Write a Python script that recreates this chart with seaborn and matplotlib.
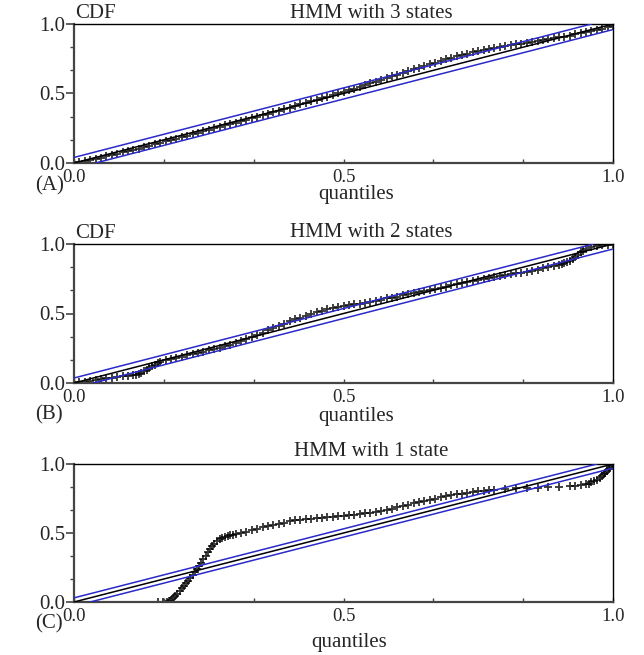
import matplotlib
matplotlib.use("Agg")
import matplotlib.pyplot as plt
from matplotlib.ticker import MultipleLocator
from matplotlib.transforms import ScaledTranslation
import seaborn as sns
import pandas as pd

# =====================================================
# DATA
# =====================================================

# panel A : HMM with 3 states
q_a = [0.00, 0.01, 0.02, 0.03, 0.04, 0.05, 0.06, 0.07, 0.08, 0.09,
       0.10, 0.11, 0.12, 0.13, 0.14, 0.15, 0.16, 0.17, 0.18, 0.19,
       0.20, 0.21, 0.22, 0.23, 0.24, 0.25, 0.26, 0.27, 0.28, 0.29,
       0.30, 0.31, 0.32, 0.33, 0.34, 0.35, 0.36, 0.37, 0.38, 0.39,
       0.40, 0.41, 0.42, 0.43, 0.44, 0.45, 0.46, 0.47, 0.48, 0.49,
       0.50, 0.51, 0.52, 0.53, 0.54, 0.55, 0.56, 0.57, 0.58, 0.59,
       0.60, 0.61, 0.62, 0.63, 0.64, 0.65, 0.66, 0.67, 0.68, 0.69,
       0.70, 0.71, 0.72, 0.73, 0.74, 0.75, 0.76, 0.77, 0.78, 0.79,
       0.80, 0.81, 0.82, 0.83, 0.84, 0.85, 0.86, 0.87, 0.88, 0.89,
       0.90, 0.91, 0.92, 0.93, 0.94, 0.95, 0.96, 0.97, 0.98, 0.99, 1.00]
cdf_a = [0.000, 0.005, 0.012, 0.021, 0.030, 0.039, 0.048, 0.057, 0.066, 0.076,
         0.085, 0.094, 0.104, 0.114, 0.124, 0.134, 0.145, 0.155, 0.166, 0.176,
         0.187, 0.197, 0.207, 0.217, 0.228, 0.239, 0.249, 0.259, 0.270, 0.280,
         0.290, 0.301, 0.312, 0.322, 0.333, 0.343, 0.354, 0.365, 0.376, 0.387,
         0.398, 0.409, 0.421, 0.432, 0.444, 0.455, 0.467, 0.478, 0.489, 0.500,
         0.512, 0.523, 0.535, 0.547, 0.560, 0.573, 0.586, 0.599, 0.612, 0.624,
         0.636, 0.648, 0.660, 0.673, 0.686, 0.698, 0.710, 0.723, 0.735, 0.746,
         0.757, 0.767, 0.776, 0.786, 0.795, 0.803, 0.810, 0.818, 0.825, 0.833,
         0.840, 0.847, 0.853, 0.859, 0.865, 0.871, 0.877, 0.884, 0.890, 0.897,
         0.903, 0.910, 0.917, 0.925, 0.934, 0.942, 0.950, 0.958, 0.967, 0.976, 0.985]

# panel B : HMM with 2 states
q_b = [0.00, 0.01, 0.02, 0.03, 0.04, 0.05, 0.06, 0.07, 0.08, 0.09,
       0.10, 0.11, 0.115, 0.12, 0.125, 0.13, 0.135, 0.14, 0.145, 0.15,
       0.155, 0.16, 0.17, 0.18, 0.19, 0.20, 0.21, 0.22, 0.23, 0.24,
       0.25, 0.26, 0.27, 0.28, 0.29, 0.30, 0.31, 0.32, 0.33, 0.34,
       0.35, 0.36, 0.37, 0.38, 0.39, 0.40, 0.41, 0.42, 0.43, 0.44,
       0.45, 0.46, 0.47, 0.48, 0.49, 0.50, 0.51, 0.52, 0.53, 0.54,
       0.55, 0.56, 0.57, 0.58, 0.59, 0.60, 0.61, 0.62, 0.63, 0.64,
       0.65, 0.66, 0.67, 0.68, 0.69, 0.70, 0.71, 0.72, 0.73, 0.74,
       0.75, 0.76, 0.77, 0.78, 0.79, 0.80, 0.81, 0.82, 0.83, 0.84,
       0.85, 0.86, 0.87, 0.88, 0.89, 0.90, 0.905, 0.91, 0.915, 0.92,
       0.925, 0.93, 0.935, 0.94, 0.945, 0.95, 0.96, 0.97, 0.98, 0.99, 1.00]
cdf_b = [0.000, 0.004, 0.008, 0.014, 0.020, 0.027, 0.033, 0.038, 0.043, 0.047,
         0.050, 0.056, 0.060, 0.065, 0.074, 0.085, 0.097, 0.110, 0.122, 0.133,
         0.142, 0.150, 0.162, 0.172, 0.181, 0.190, 0.198, 0.207, 0.216, 0.225,
         0.234, 0.244, 0.253, 0.263, 0.273, 0.285, 0.300, 0.315, 0.331, 0.347,
         0.363, 0.380, 0.397, 0.413, 0.428, 0.443, 0.457, 0.470, 0.483, 0.495,
         0.508, 0.520, 0.531, 0.540, 0.547, 0.553, 0.559, 0.565, 0.571, 0.578,
         0.585, 0.593, 0.600, 0.608, 0.615, 0.622, 0.630, 0.638, 0.646, 0.654,
         0.662, 0.670, 0.678, 0.686, 0.694, 0.702, 0.710, 0.717, 0.725, 0.733,
         0.741, 0.749, 0.756, 0.763, 0.770, 0.776, 0.782, 0.788, 0.794, 0.800,
         0.807, 0.815, 0.824, 0.833, 0.842, 0.852, 0.858, 0.865, 0.872, 0.880,
         0.891, 0.905, 0.922, 0.940, 0.953, 0.965, 0.978, 0.985, 0.990, 0.995, 1.000]

# panel C : HMM with 1 state
q_c = [0.155, 0.165, 0.172, 0.176, 0.180, 0.184, 0.188, 0.192, 0.196, 0.200,
       0.204, 0.208, 0.212, 0.216, 0.220, 0.224, 0.228, 0.232, 0.236, 0.240,
       0.244, 0.248, 0.252, 0.256, 0.260, 0.265, 0.270, 0.275, 0.280, 0.285,
       0.290, 0.295, 0.300, 0.31, 0.32, 0.33, 0.34, 0.35, 0.36, 0.37,
       0.38, 0.39, 0.40, 0.41, 0.42, 0.43, 0.44, 0.45, 0.46, 0.47,
       0.48, 0.49, 0.50, 0.51, 0.52, 0.53, 0.54, 0.55, 0.56, 0.57,
       0.58, 0.59, 0.60, 0.61, 0.62, 0.63, 0.64, 0.65, 0.66, 0.67,
       0.68, 0.69, 0.70, 0.71, 0.72, 0.73, 0.74, 0.75, 0.76, 0.77,
       0.78, 0.80, 0.82, 0.84, 0.86, 0.88, 0.90, 0.92, 0.93, 0.94,
       0.95, 0.955, 0.96, 0.965, 0.97, 0.975, 0.98, 0.983, 0.986, 0.989,
       0.992, 0.995, 0.998, 1.000]
cdf_c = [0.000, 0.000, 0.002, 0.008, 0.018, 0.030, 0.044, 0.060, 0.078, 0.098,
         0.116, 0.135, 0.155, 0.175, 0.195, 0.216, 0.238, 0.262, 0.286, 0.310,
         0.336, 0.362, 0.385, 0.405, 0.423, 0.440, 0.453, 0.463, 0.471, 0.478,
         0.484, 0.489, 0.494, 0.502, 0.510, 0.520, 0.530, 0.540, 0.550, 0.558,
         0.567, 0.576, 0.585, 0.591, 0.597, 0.601, 0.605, 0.608, 0.610, 0.613,
         0.616, 0.620, 0.624, 0.628, 0.632, 0.637, 0.642, 0.648, 0.655, 0.661,
         0.667, 0.676, 0.685, 0.695, 0.706, 0.716, 0.725, 0.734, 0.742, 0.750,
         0.758, 0.765, 0.772, 0.779, 0.785, 0.791, 0.796, 0.801, 0.805, 0.809,
         0.812, 0.818, 0.823, 0.826, 0.828, 0.830, 0.833, 0.837, 0.840, 0.845,
         0.852, 0.858, 0.866, 0.874, 0.885, 0.898, 0.915, 0.925, 0.938, 0.952,
         0.966, 0.980, 0.992, 1.000]

# half-width of the confidence band drawn around the diagonal
bands = [0.040, 0.036, 0.030]

titles = ["HMM with 3 states", "HMM with 2 states", "HMM with 1 state"]
panel_tags = ["(A)", "(B)", "(C)"]

# =====================================================
# STYLE
# =====================================================

sns.set_theme(style="ticks")
plt.rcParams['font.family'] = ['Liberation Serif', 'DejaVu Serif']

W, H = 644, 655
fig = plt.figure(figsize=(W / 100, H / 100), dpi=100)

blue = "#2a2ac8"

# axes boxes in pixels: (top, bottom)
boxes = [(24, 163), (244, 383), (464, 602)]
ax_left, ax_right = 74, 613

# text rows in pixels: (cdf_y, title_y, tag_y, xlabel_x, xlabel_y)
rows = [(13, 13, 186, 356, 195),
        (234, 232, 415, 356, 416),
        (None, 452, 624, 349, 642)]


def fy(y):
    return 1 - y / H


def fx(x):
    return x / W


panels = [(q_a, cdf_a), (q_b, cdf_b), (q_c, cdf_c)]
shift = ScaledTranslation(4 / 100, 0, fig.dpi_scale_trans)

for i, (qq, cc) in enumerate(panels):

    top, bot = boxes[i]
    ax = fig.add_axes([fx(ax_left), fy(bot),
                       (ax_right - ax_left) / W, (bot - top) / H])

    df = pd.DataFrame({"quantile": qq, "cdf": cc})

    sns.scatterplot(
        data=df, x="quantile", y="cdf", ax=ax,
        marker="+", s=30, color="black", linewidth=1.3, alpha=0.8,
        zorder=2
    )

    b = bands[i]
    sns.lineplot(x=[0, 1], y=[0, 1], ax=ax, color="black", linewidth=1.1, zorder=3)
    sns.lineplot(x=[0, 1 - b], y=[b, 1], ax=ax, color=blue, linewidth=1.1, zorder=3)
    sns.lineplot(x=[b, 1], y=[0, 1 - b], ax=ax, color=blue, linewidth=1.1, zorder=3)

    ax.set_xlim(0, 1)
    ax.set_ylim(0, 1)
    ax.set_xlabel("")
    ax.set_ylabel("")

    ax.xaxis.set_minor_locator(MultipleLocator(1 / 6))
    ax.yaxis.set_minor_locator(MultipleLocator(1 / 6))
    ax.set_xticks([0, 0.5, 1])
    ax.set_xticklabels(["0.0", "0.5", "1.0"], fontsize=13.5)
    ax.set_yticks([0, 0.5, 1])
    ax.set_yticklabels(["0.0", "0.5", "1.0"], fontsize=15)
    for lbl in ax.get_xticklabels():
        lbl.set_transform(lbl.get_transform() + shift)

    ax.tick_params(axis="x", which="both", direction="in", length=3,
                   width=1, color="#444444", pad=4)
    ax.tick_params(axis="y", which="major", direction="out", length=6,
                   width=1.2, color="#444444", pad=0.5)
    ax.tick_params(axis="y", which="minor", direction="out", length=3,
                   width=1, color="#444444")

    for side in ["left", "bottom"]:
        ax.spines[side].set_color("#444444")
        ax.spines[side].set_linewidth(1.6)
    for side in ["top", "right"]:
        ax.spines[side].set_visible(True)
        ax.spines[side].set_color("black")
        ax.spines[side].set_linewidth(1.0)

    cdf_y, title_y, tag_y, xl_x, xl_y = rows[i]
    if cdf_y is not None:
        fig.text(fx(75), fy(cdf_y), "CDF", fontsize=15, ha="left", va="center")
    fig.text(fx(371), fy(title_y), titles[i], fontsize=15, ha="center", va="center")
    fig.text(fx(35), fy(tag_y), panel_tags[i], fontsize=15, ha="left", va="center")
    fig.text(fx(xl_x), fy(xl_y), "quantiles", fontsize=15, ha="center", va="center")

plt.savefig("out.png", dpi=100)
plt.close()
